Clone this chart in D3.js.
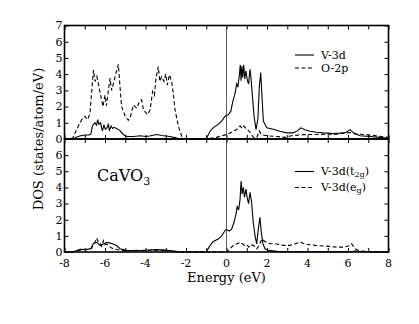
<!DOCTYPE html>
<html>
<head>
<meta charset="utf-8">
<script src="https://cdn.jsdelivr.net/npm/d3@7"></script>
<style>
  body { margin: 0; background: #fff; }
</style>
</head>
<body>
<script>
// energy (eV), DOS (states/atom/eV)
const v3dTop = [[-8,0],[-7.6,0],[-7.4,0.12],[-7.2,0.2],[-7.0,0.25],[-6.8,0.25],[-6.7,0.3],[-6.62,0.8],[-6.5,1.0],
  [-6.42,0.85],[-6.36,1.2],[-6.3,0.9],[-6.22,1.0],[-6.13,0.5],[-6.05,0.85],[-5.98,0.6],[-5.9,0.7],[-5.84,0.9],
  [-5.78,0.55],[-5.7,0.8],[-5.62,0.65],[-5.55,0.72],[-5.43,0.65],[-5.26,0.52],[-5.1,0.28],[-4.93,0.15],[-4.6,0.15],
  [-4.27,0.2],[-4.0,0.15],[-3.8,0.18],[-3.45,0.28],[-3.2,0.22],[-2.8,0.15],[-2.5,0.07],[-2.3,0],[-1.0,0],
  [-0.81,0.48],[-0.65,0.7],[-0.41,0.9],[-0.24,1.1],[-0.07,1.4],[0.09,1.5],[0.21,1.7],[0.31,2.3],[0.42,2.8],
  [0.5,3.4],[0.56,3.2],[0.64,4.0],[0.68,4.57],[0.72,3.6],[0.76,4.5],[0.8,3.8],[0.85,4.57],[0.9,3.7],[0.96,4.2],
  [1.03,3.6],[1.09,3.4],[1.16,4.3],[1.2,3.9],[1.27,2.8],[1.36,1.4],[1.46,0.58],[1.55,1.25],[1.62,3.2],[1.69,4.1],
  [1.75,2.7],[1.82,1.1],[1.99,0.69],[2.31,0.6],[2.64,0.48],[2.97,0.38],[3.3,0.38],[3.5,0.5],[3.66,0.69],[3.9,0.55],
  [4.12,0.48],[4.45,0.42],[4.78,0.38],[5.0,0.36],[5.27,0.33],[5.6,0.36],[5.9,0.4],[6.1,0.58],[6.27,0.38],
  [6.59,0.2],[7.08,0.15],[7.57,0.1],[8,0.05]];

const o2pTop = [[-8,0],[-7.6,0.05],[-7.4,0.58],[-7.15,1.2],[-7.0,1.4],[-6.85,1.2],[-6.74,1.6],[-6.62,3.5],[-6.57,4.26],
  [-6.49,3.55],[-6.4,3.85],[-6.3,3.24],[-6.2,2.6],[-6.1,2.0],[-6.0,2.7],[-5.93,2.05],[-5.84,2.93],[-5.75,3.75],
  [-5.67,3.0],[-5.59,3.4],[-5.46,4.06],[-5.34,4.6],[-5.26,3.24],[-5.18,2.0],[-5.0,1.4],[-4.85,1.15],[-4.74,1.4],
  [-4.6,2.1],[-4.43,1.9],[-4.3,2.3],[-4.19,2.42],[-4.1,1.8],[-3.9,1.5],[-3.77,1.8],[-3.65,2.93],[-3.56,2.7],
  [-3.48,3.75],[-3.37,4.47],[-3.29,3.55],[-3.21,3.85],[-3.09,3.55],[-3.0,4.0],[-2.92,3.34],[-2.82,3.96],
  [-2.71,3.55],[-2.63,2.83],[-2.54,1.8],[-2.38,0.8],[-2.21,0.17],[-2.1,0],[-1.0,0],[-0.5,0.1],[0,0.28],[0.3,0.45],
  [0.5,0.58],[0.67,0.8],[0.78,0.65],[0.85,0.8],[1.0,0.6],[1.1,0.5],[1.2,0.35],[1.3,0.15],[1.4,0.05],[1.5,0.1],
  [1.62,0.5],[1.7,0.3],[1.8,0.25],[2.0,0.2],[2.5,0.15],[2.9,0.1],[3.2,0.2],[3.8,0.27],[4.5,0.28],[4.95,0.3],
  [5.5,0.3],[6.1,0.4],[6.4,0.3],[6.9,0.27],[7.57,0.17],[8,0.1]];

const t2gBottom = [[-8,0],[-7.6,0],[-7.23,0.17],[-6.9,0.15],[-6.66,0.23],[-6.58,0.52],[-6.41,0.6],[-6.24,0.4],
  [-6.08,0.5],[-5.91,0.6],[-5.75,0.55],[-5.59,0.5],[-5.43,0.4],[-5.26,0.2],[-4.93,0.1],[-4.4,0.08],[-3.9,0.12],
  [-3.45,0.15],[-2.9,0.1],[-2.5,0.04],[-2.3,0],[-1.0,0],[-0.81,0.41],[-0.65,0.65],[-0.41,0.8],[-0.24,1.0],
  [-0.07,1.33],[0,1.4],[0.13,1.3],[0.25,1.4],[0.37,1.84],[0.47,2.35],[0.53,2.86],[0.6,2.6],[0.67,3.27],[0.72,4.4],
  [0.77,3.6],[0.83,4.0],[0.89,3.4],[0.96,3.9],[1.03,3.3],[1.09,3.0],[1.16,3.7],[1.24,3.1],[1.32,1.84],[1.41,1.0],
  [1.49,0.5],[1.57,1.4],[1.65,2.15],[1.72,1.2],[1.8,0.5],[1.9,0.2],[2.07,0.1],[2.5,0.04],[3,0.02],[6.2,0.02],
  [6.35,0.08],[6.6,0.02],[8,0]];

const egBottom = [[-8,0],[-7.6,0],[-7.3,0.1],[-7.0,0.15],[-6.7,0.2],[-6.6,0.45],[-6.5,0.6],[-6.41,0.86],[-6.33,0.6],
  [-6.25,0.55],[-6.16,0.35],[-6.08,0.7],[-6.0,0.45],[-5.9,0.5],[-5.8,0.35],[-5.6,0.2],[-5.3,0.12],[-5.0,0.08],
  [-4.5,0.1],[-4.0,0.08],[-3.5,0.12],[-3.0,0.1],[-2.6,0.05],[-2.3,0],[0,0],[0.17,0.2],[0.33,0.4],[0.5,0.5],
  [0.67,0.6],[0.8,0.5],[0.9,0.4],[1.0,0.45],[1.1,0.3],[1.2,0.45],[1.35,0.4],[1.5,0.2],[1.6,0.4],[1.75,0.8],
  [1.9,0.65],[2.14,0.52],[2.47,0.5],[2.8,0.41],[3.13,0.41],[3.38,0.5],[3.63,0.61],[3.87,0.5],[4.12,0.45],
  [4.45,0.4],[4.78,0.37],[5.1,0.35],[5.43,0.3],[5.8,0.3],[6.1,0.4],[6.18,0.5],[6.35,0.2],[6.6,0.06],[7,0.03],[8,0]];

const xTicks = [-8, -6, -4, -2, 0, 2, 4, 6, 8];
const yTicksTop = [0, 1, 2, 3, 4, 5, 6, 7];
const yTicksBottom = [0, 1, 2, 3, 4, 5, 6];

const width = 419, height = 324;
const plotLeft = 64.5, plotRight = 388.5, plotTop = 25.5, plotMid = 139, plotBottom = 252;
const serif = 'DejaVu Serif, serif';

const svg = d3.select('body').append('svg')
  .attr('width', width)
  .attr('height', height)
  .attr('font-family', serif);

const x = d3.scaleLinear().domain([-8, 8]).range([plotLeft, plotRight]);
const yTop = d3.scaleLinear().domain([0, 7]).range([plotMid, plotTop]);
const yBot = d3.scaleLinear().domain([0, 7]).range([plotBottom, plotMid]);

const drawPanel = function(y, series, legend, yTickVals, showX) {
  const g = svg.append('g');

  const line = d3.line().x(d => x(d[0])).y(d => y(d[1]));
  series.forEach(s => {
    g.append('path').datum(s.data)
      .attr('d', line)
      .attr('fill', 'none')
      .attr('stroke', '#000')
      .attr('stroke-width', 1.1)
      .attr('stroke-dasharray', s.dash ? '4,2.5' : null);
  });

  // inward ticks on all four sides
  const unitX = d3.range(-8, 9, 1);
  const unitY = d3.range(0, 8, 1);
  const yMin = y.domain()[0], yMax = y.domain()[1];
  g.append('g').attr('transform', 'translate(0,' + y(yMin) + ')')
    .call(d3.axisBottom(x).tickValues(unitX).tickSize(-4).tickFormat(''))
    .call(a => a.select('.domain').remove());
  g.append('g').attr('transform', 'translate(0,' + y(yMax) + ')')
    .call(d3.axisTop(x).tickValues(unitX).tickSize(-4).tickFormat(''))
    .call(a => a.select('.domain').remove());
  g.append('g').attr('transform', 'translate(' + plotLeft + ',0)')
    .call(d3.axisLeft(y).tickValues(unitY).tickSize(-4).tickFormat(''))
    .call(a => a.select('.domain').remove());
  g.append('g').attr('transform', 'translate(' + plotRight + ',0)')
    .call(d3.axisRight(y).tickValues(unitY).tickSize(-4).tickFormat(''))
    .call(a => a.select('.domain').remove());
  g.selectAll('.tick line').attr('stroke', '#000').attr('stroke-width', 1);

  g.selectAll('.ylab').data(yTickVals).enter().append('text')
    .attr('x', plotLeft - 2).attr('y', d => y(d))
    .attr('dy', '0.35em').attr('text-anchor', 'end')
    .attr('font-size', 11)
    .text(d => d);

  if (showX) {
    g.selectAll('.xlab').data(xTicks).enter().append('text')
      .attr('x', d => x(d)).attr('y', plotBottom + 15)
      .attr('text-anchor', 'middle')
      .attr('font-size', 11)
      .text(d => d);
  }

  g.append('rect')
    .attr('x', plotLeft).attr('y', y(yMax))
    .attr('width', plotRight - plotLeft).attr('height', y(yMin) - y(yMax))
    .attr('fill', 'none').attr('stroke', '#000').attr('stroke-width', 1.6);

  // legend
  series.forEach((s, i) => {
    const ly = legend.y + i * legend.gap;
    g.append('line')
      .attr('x1', 295).attr('x2', 314).attr('y1', ly).attr('y2', ly)
      .attr('stroke', '#000').attr('stroke-width', 1.1)
      .attr('stroke-dasharray', s.dash ? '4,2.5' : null);
    const t = g.append('text').attr('x', 321).attr('y', ly).attr('dy', '0.35em')
      .attr('font-size', 11);
    legend.items[i].forEach(part => {
      const span = t.append('tspan').text(part.t);
      if (part.sub) span.attr('baseline-shift', '-30%').attr('font-size', 8);
    });
  });
};

drawPanel(yTop, [{data: v3dTop}, {data: o2pTop, dash: true}],
  {y: 55, gap: 13, items: [[{t: 'V-3d'}], [{t: 'O-2p'}]]}, yTicksTop, false);
drawPanel(yBot, [{data: t2gBottom}, {data: egBottom, dash: true}],
  {y: 171.5, gap: 16, items: [[{t: 'V-3d(t'}, {t: '2g', sub: true}, {t: ')'}],
                               [{t: 'V-3d(e'}, {t: 'g', sub: true}, {t: ')'}]]},
  yTicksBottom, true);

// Fermi level
svg.append('line')
  .attr('x1', x(0)).attr('x2', x(0)).attr('y1', plotTop).attr('y2', plotBottom)
  .attr('stroke', '#333').attr('stroke-width', 0.8);

svg.append('text')
  .attr('x', 97).attr('y', 181)
  .attr('font-size', 16)
  .text('CaVO')
  .append('tspan').attr('baseline-shift', '-35%').attr('font-size', 11).text('3');

svg.append('text')
  .attr('x', x(0)).attr('y', 282)
  .attr('text-anchor', 'middle')
  .attr('font-size', 13)
  .text('Energy (eV)');

svg.append('text')
  .attr('transform', 'translate(43,' + plotMid + ') rotate(-90)')
  .attr('text-anchor', 'middle')
  .attr('font-size', 13)
  .text('DOS (states/atom/eV)');
</script>
</body>
</html>
